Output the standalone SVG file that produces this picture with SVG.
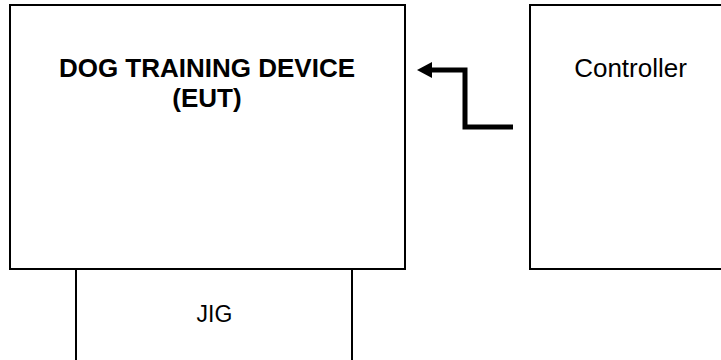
<svg xmlns="http://www.w3.org/2000/svg" width="721" height="360" viewBox="0 0 721 360">
<style>
.box{fill:#fff;stroke:#000;stroke-width:2}
.t{font-family:"Liberation Sans",Arial,sans-serif;fill:#000}
.b{font-weight:bold;font-size:26px}
.n{font-size:26px}
.s{font-size:23px}
.conn{fill:none;stroke:#000;stroke-width:5;stroke-linejoin:miter}
</style>
<rect width="721" height="360" fill="#fff"/>
<g id="jig">
<path class="box" d="M76,269 V362 M352,269 V362"/>
<text class="t s" x="214.5" y="322" text-anchor="middle">JIG</text>
</g>
<g id="eut">
<rect class="box" x="10" y="5" width="395" height="264"/>
<text class="t b" x="207" y="77" text-anchor="middle">DOG TRAINING DEVICE</text>
<text class="t b" x="207" y="107" text-anchor="middle">(EUT)</text>
</g>
<g id="controller">
<rect class="box" x="530" y="5" width="200" height="264"/>
<text class="t n" x="630.5" y="77" text-anchor="middle">Controller</text>
</g>
<g id="connectors">
<path class="conn" d="M513,127 H465 V70 H430"/>
<polygon points="417,70 432,62 432,78" fill="#000"/>
</g>
</svg>
